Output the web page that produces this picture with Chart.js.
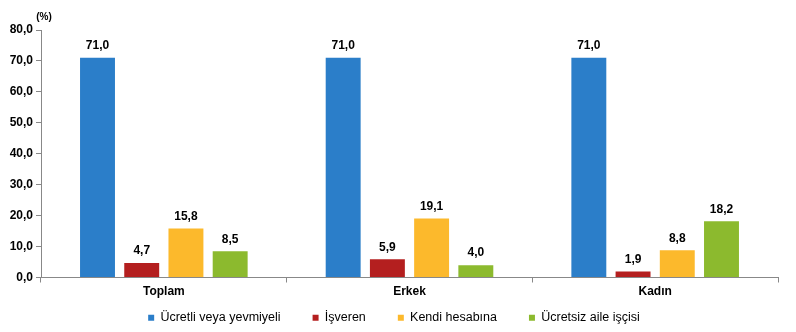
<!DOCTYPE html>
<html>
<head>
<meta charset="utf-8">
<script src="https://cdn.jsdelivr.net/npm/chart.js@4"></script>
<style>
  html, body { margin: 0; padding: 0; background: #fff; }
  #wrap { width: 796px; height: 332px; }
</style>
</head>
<body>
<div id="wrap"><canvas id="myChart" width="796" height="332"></canvas></div>
<script>
// categories and series
const kategoriler = ['Toplam', 'Erkek', 'Kadın'];
const seriAdlari = ['Ücretli veya yevmiyeli', 'İşveren', 'Kendi hesabına', 'Ücretsiz aile işçisi'];
const ucretli = [71.0, 71.0, 71.0];
const isveren = [4.7, 5.9, 1.9];
const kendiHesabina = [15.8, 19.1, 8.8];
const ucretsizAile = [8.5, 4.0, 18.2];
const renkler = ['#2b7ec9', '#b41f1f', '#fcb92c', '#8cba2e'];

const fmt = v => v.toFixed(1).replace('.', ',');
const FONT = "'Liberation Sans', Arial, sans-serif";
const LEGEND_SHRINK = 24;
const LEGEND_LIFT = 22;
const LEGEND_SHIFT_X = 5;

// values on top of the bars + the (%) label
const etiketPlugin = {
    id: 'etiketler',
    afterInit(chart) {
        // legend padding is big for the horizontal gaps; take some height back
        const lg = chart.legend;
        const origFit = lg.fit;
        lg.fit = function () {
            origFit.call(this);
            this.height -= LEGEND_SHRINK;
        };
    },
    afterLayout(chart) {
        chart.legend.top -= LEGEND_LIFT;
        chart.legend.left += LEGEND_SHIFT_X;
        chart.legend.right += LEGEND_SHIFT_X;
    },
    afterDatasetsDraw(chart) {
        const ctx = chart.ctx;
        ctx.save();
        ctx.font = 'bold 12px ' + FONT;
        ctx.fillStyle = '#000';
        ctx.textAlign = 'center';
        ctx.textBaseline = 'bottom';
        chart.data.datasets.forEach((ds, i) => {
            chart.getDatasetMeta(i).data.forEach((bar, j) => {
                ctx.fillText(fmt(ds.data[j]), bar.x, bar.y - 6);
            });
        });
        const y = chart.scales.y;
        ctx.font = 'bold 10px ' + FONT;
        ctx.textBaseline = 'middle';
        ctx.fillText('(%)', y.right + 3, 17);
        ctx.restore();
    }
};

const ctx = document.getElementById('myChart').getContext('2d');
const myChart = new Chart(ctx, {
    type: 'bar',
    data: {
        labels: kategoriler,
        datasets: [ucretli, isveren, kendiHesabina, ucretsizAile].map((d, i) => ({
            label: seriAdlari[i],
            data: d,
            backgroundColor: renkler[i],
            borderWidth: 0,
            categoryPercentage: 0.72,
            barPercentage: 0.79
        }))
    },
    options: {
        responsive: false,
        animation: false,
        layout: { padding: { top: 30, right: 18, bottom: 0, left: 0 } },
        scales: {
            x: {
                grid: { display: true, drawOnChartArea: false, offset: true, color: '#888', tickLength: 5 },
                border: { color: '#888' },
                ticks: { color: '#000', padding: 2, font: { family: FONT, size: 12, weight: 'bold' } },
                afterFit: s => { s.height = 24; }
            },
            y: {
                min: 0,
                max: 80,
                grid: { display: true, drawOnChartArea: false, color: '#888', tickLength: 5 },
                border: { color: '#888' },
                ticks: {
                    stepSize: 10,
                    color: '#000',
                    padding: 3,
                    font: { family: FONT, size: 12, weight: 'bold' },
                    callback: v => fmt(v)
                },
                afterFit: s => { s.width = 41; }
            }
        },
        plugins: {
            legend: {
                position: 'bottom',
                labels: {
                    boxWidth: 6,
                    boxHeight: 6,
                    padding: 32,
                    color: '#000',
                    font: { family: FONT, size: 12.5 }
                }
            },
            tooltip: { enabled: false }
        }
    },
    plugins: [etiketPlugin]
});
</script>
</body>
</html>
